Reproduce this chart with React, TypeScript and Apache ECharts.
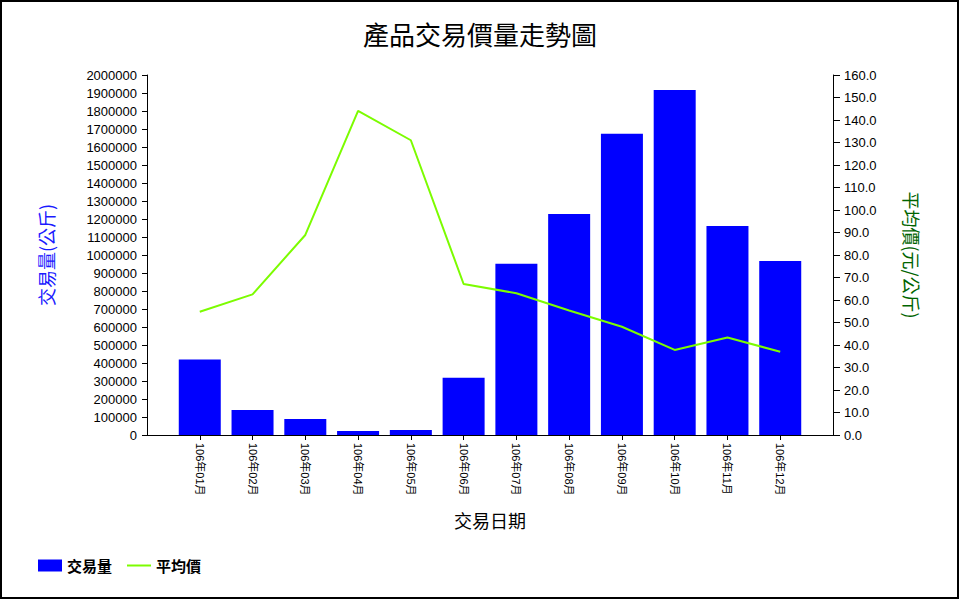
import React, { useEffect, useRef } from "react";
import * as echarts from "echarts";

const titleText = "產品交易價量走勢圖";
const months = [
  "106年01月", "106年02月", "106年03月", "106年04月", "106年05月", "106年06月",
  "106年07月", "106年08月", "106年09月", "106年10月", "106年11月", "106年12月",
];
const volumes = [419000, 139000, 89000, 22000, 28000, 318000, 952000, 1228000, 1674000, 1917000, 1161000, 967000];
const prices = [54.8, 62.5, 88.9, 144.1, 131.0, 67.1, 63.0, 55.3, 48.1, 37.8, 43.3, 37.0];
const volumeAxis = { min: 0, max: 2000000, interval: 100000 };
const priceAxis = { min: 0, max: 160, interval: 10 };

const FONT = "'Liberation Sans', 'Noto Sans CJK TC', sans-serif";
const CJK = "'Noto Sans CJK TC', sans-serif";

export default function App() {
  const ref = useRef<HTMLDivElement>(null);
  useEffect(() => {
    if (!ref.current) return;
    const chart = echarts.init(ref.current, null, { renderer: "svg" });
    const cats = ["", ...months, ""];
    const vData = [null, ...volumes, null];
    const pData = [null, ...prices, null];
    const n = cats.length;
    chart.setOption({
      animation: false,
      backgroundColor: "#fff",
      textStyle: { fontFamily: FONT },
      title: {
        text: titleText,
        left: "center",
        top: 15,
        textStyle: { fontFamily: CJK, fontSize: 26, fontWeight: "normal", color: "#000" },
      },
      legend: {
        left: 38,
        top: 558,
        padding: 0,
        itemWidth: 24,
        itemHeight: 12,
        itemGap: 15,
        symbolKeepAspect: true,
        textStyle: { fontFamily: CJK, fontSize: 15, fontWeight: "bold", color: "#000" },
        data: [
          { name: "交易量", icon: "rect" },
          { name: "平均價", icon: "path://M0,0 L24,0 L24,2 L0,2 Z" },
        ],
      },
      grid: { left: 147, right: 127, top: 75, bottom: 165, containLabel: false },
      xAxis: {
        type: "category",
        data: cats,
        boundaryGap: false,
        name: "交易日期",
        nameLocation: "middle",
        nameGap: 76,
        nameTextStyle: { fontFamily: CJK, fontSize: 18, color: "#000" },
        axisLine: { lineStyle: { color: "#000", width: 1 } },
        axisTick: {
          show: true,
          length: 5,
          interval: (i: number) => i > 0 && i < n - 1,
          lineStyle: { color: "#000" },
        },
        axisLabel: { rotate: -90, interval: 0, fontSize: 11, margin: 8, color: "#000" },
        splitLine: { show: false },
      },
      yAxis: [
        {
          type: "value",
          position: "left",
          min: volumeAxis.min,
          max: volumeAxis.max,
          interval: volumeAxis.interval,
          name: "交易量(公斤)",
          nameLocation: "middle",
          nameGap: 92,
          nameTextStyle: { fontFamily: CJK, fontSize: 18, color: "#1a1aff" },
          axisLine: { show: true, lineStyle: { color: "#000" } },
          axisTick: { show: true, length: 5, lineStyle: { color: "#000" } },
          axisLabel: { fontSize: 13, margin: 10, color: "#000", formatter: (v: number) => String(v) },
          splitLine: { show: false },
        },
        {
          type: "value",
          position: "right",
          min: priceAxis.min,
          max: priceAxis.max,
          interval: priceAxis.interval,
          name: "平均價(元/公斤)",
          nameLocation: "middle",
          nameRotate: -90,
          nameGap: 70,
          nameTextStyle: { fontFamily: CJK, fontSize: 18, color: "#006400" },
          axisLine: { show: true, lineStyle: { color: "#000" } },
          axisTick: { show: true, length: 7, lineStyle: { color: "#000" } },
          axisLabel: { fontSize: 13, margin: 11, color: "#000", formatter: (v: number) => v.toFixed(1) },
          splitLine: { show: false },
        },
      ],
      series: [
        {
          name: "交易量",
          type: "bar",
          data: vData,
          barWidth: 42,
          itemStyle: { color: "#0000ff" },
        },
        {
          name: "平均價",
          type: "line",
          yAxisIndex: 1,
          data: pData,
          symbol: "none",
          connectNulls: false,
          lineStyle: { color: "#7cfc00", width: 2 },
          itemStyle: { color: "#7cfc00" },
        },
      ],
      graphic: [
        {
          type: "rect",
          shape: { x: 1, y: 1, width: 957, height: 597 },
          style: { fill: "none", stroke: "#000", lineWidth: 2 },
          silent: true,
          z: 100,
        },
      ],
    });
    return () => chart.dispose();
  }, []);
  return (
    <div
      ref={ref}
      style={{ position: "absolute", left: 0, top: 0, width: 960, height: 600 }}
    />
  );
}
